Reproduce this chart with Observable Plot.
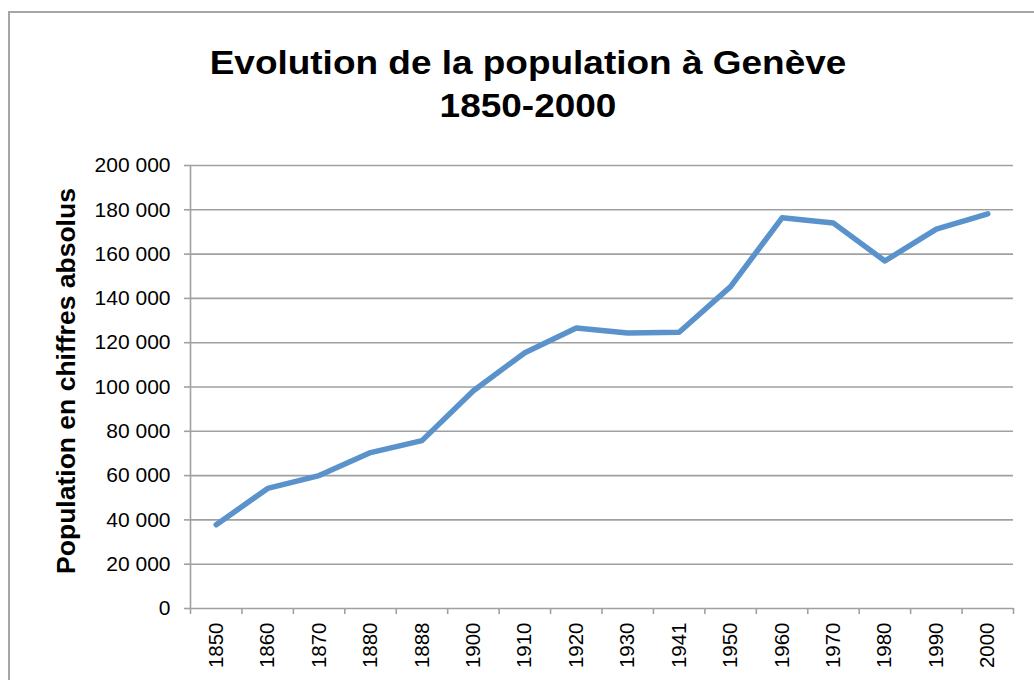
<!DOCTYPE html>
<html>
<head>
<meta charset="utf-8">
<script src="https://cdn.jsdelivr.net/npm/d3@7"></script>
<script src="https://cdn.jsdelivr.net/npm/@observablehq/plot@0.6"></script>
<style>
  html, body { margin: 0; padding: 0; background: #fff; }
  #wrap { position: relative; width: 1034px; height: 680px; overflow: hidden; font-family: "Liberation Sans", Arial, sans-serif; }
  #frame { position: absolute; left: 8px; top: 11px; width: 1100px; height: 760px; border: 2px solid #a6a6a6; box-sizing: border-box; }
  #title { position: absolute; left: 0; width: 1056px; top: 41px; text-align: center; font-weight: bold; font-size: 33px; line-height: 43px; color: #000; transform: scaleX(1.12); transform-origin: 528px 0; }
  #chart { position: absolute; left: 0; top: 150px; }
  #chart svg { overflow: visible; }
</style>
</head>
<body>
<div id="wrap">
  <div id="frame"></div>
  <div id="title">Evolution de la population à Genève<br>1850-2000</div>
  <div id="chart"></div>
</div>
<script>
const years = ["1850","1860","1870","1880","1888","1900","1910","1920","1930","1941","1950","1960","1970","1980","1990","2000"];
const population = [37800, 54200, 60000, 70400, 75800, 98300, 115500, 126600, 124400, 124700, 145300, 176400, 174000, 156900, 171300, 178200];
const yTicks = [0, 20000, 40000, 60000, 80000, 100000, 120000, 140000, 160000, 180000, 200000];
const yLabel = "Population en chiffres absolus";

const data = years.map((y, i) => ({year: y, idx: i + 0.5, pop: population[i]}));
const centers = years.map((y, i) => i + 0.5);
const bounds = d3.range(years.length + 1);
const fmt = d3.formatLocale({decimal: ",", thousands: " ", grouping: [3], currency: ["", ""]}).format(",");
const gray = "#a0a0a0";

const chart = Plot.plot({
  width: 1034,
  height: 530,
  marginTop: 15,
  marginBottom: 72,
  marginLeft: 190,
  marginRight: 21,
  style: {fontFamily: "'Liberation Sans', Arial, sans-serif", fontSize: "20px", color: "#000", background: "transparent"},
  x: {type: "linear", domain: [0, years.length]},
  y: {domain: [0, 200000]},
  marks: [
    Plot.gridY(yTicks, {stroke: gray, strokeOpacity: 1, strokeWidth: 1.6}),
    Plot.ruleX([0], {y1: 0, y2: 200000, stroke: gray, strokeWidth: 1.6}),
    Plot.axisY(yTicks, {tickSize: 6, tickPadding: 14, tickFormat: fmt, stroke: gray, strokeWidth: 1.6, fill: "#000", fontSize: 21, label: null}),
    Plot.axisX(bounds, {tickSize: 6, tickFormat: () => "", stroke: gray, strokeWidth: 1.6, label: null}),
    Plot.axisX(centers, {tickSize: 0, tickPadding: 14, tickRotate: -90, tickFormat: d => years[Math.floor(d)], fill: "#000", fontSize: 20.5, label: null}),
    Plot.line(data, {x: "idx", y: "pop", stroke: "#5a93cc", strokeWidth: 5.5, strokeLinejoin: "round", strokeLinecap: "round"}),
    Plot.text([yLabel], {frameAnchor: "left", dx: -124, dy: -6, rotate: -90, textAnchor: "middle", fontWeight: "bold", fontSize: 26.5, fill: "#000"})
  ]
});
document.getElementById("chart").appendChild(chart);
</script>
</body>
</html>
